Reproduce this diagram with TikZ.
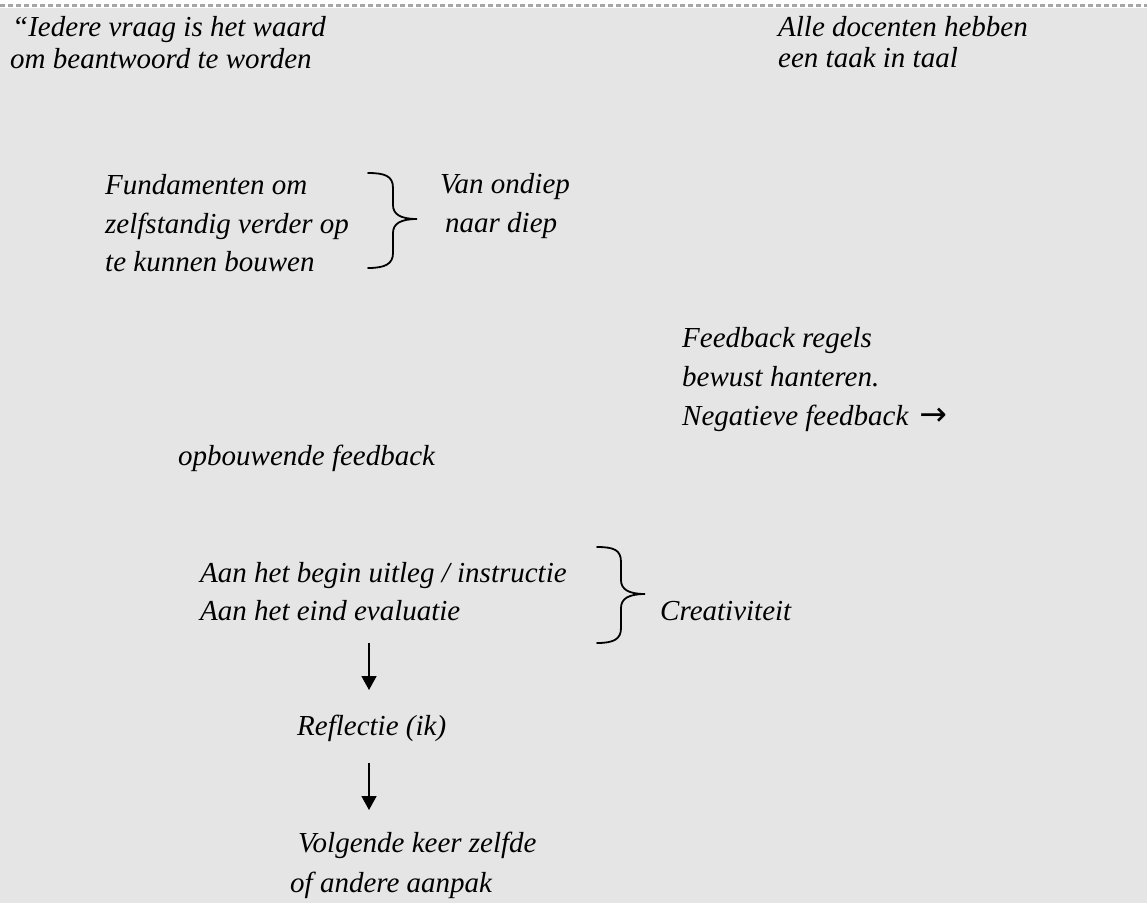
\documentclass[tikz,border=0pt]{standalone}
\usepackage{fontspec}
\setmainfont{Liberation Serif}
\newfontfamily\arrowfont{DejaVu Sans}
\usetikzlibrary{arrows.meta}
\definecolor{bg}{RGB}{229,229,229}
\definecolor{dotgray}{RGB}{165,165,165}
\begin{document}
\begin{tikzpicture}[x=1pt,y=-1pt,
  txt/.style={anchor=base west, inner sep=0pt, font=\fontsize{29}{39}\selectfont\itshape},
  bracestyle/.style={line width=1.8pt, line cap=round},
  flow/.style={line width=1.6pt, -{Triangle[width=15pt,length=14pt]}}]
\useasboundingbox (0,0) rectangle (1147,903);
\fill[white] (0,0) rectangle (1147,903);
\fill[bg] (0,8) rectangle (1147,903);
\draw[dotgray, line width=3pt, dash pattern=on 5pt off 3pt] (0,5.5) -- (1147,5.5);

\node[txt] (q1) at (12,36) {“Iedere vraag is het waard};
\node[txt] (q2) at (10,68) {om beantwoord te worden};
\node[txt] (d1) at (778,36) {Alle docenten hebben};
\node[txt] (d2) at (778,67) {een taak in taal};

\node[txt] (f1) at (105,194) {Fundamenten om};
\node[txt] (f2) at (105,233) {zelfstandig verder op};
\node[txt] (f3) at (105,271) {te kunnen bouwen};
\node[txt] (v1) at (440,193) {Van ondiep};
\node[txt] (v2) at (445,232) {naar diep};

\node[txt] (r1) at (682,347) {Feedback regels};
\node[txt] (r2) at (682,386) {bewust hanteren.};
\node[txt] (r3) at (682,425) {Negatieve feedback\hspace{11pt}{\arrowfont\fontsize{33}{33}\selectfont →}};
\node[txt] (o1) at (178,465) {opbouwende feedback};

\node[txt] (a1) at (200,582) {Aan het begin uitleg / instructie};
\node[txt] (a2) at (200,620) {Aan het eind evaluatie};
\node[txt] (c1) at (660,620) {Creativiteit};
\node[txt] (re) at (297,735) {Reflectie (ik)};
\node[txt] (vk1) at (298,852) {Volgende keer zelfde};
\node[txt] (vk2) at (290,892) {of andere aanpak};

% braces
\draw[bracestyle] (368,173) .. controls (385,173) and (393,176) .. (393,188) -- (393,205)
  .. controls (393,214) and (400,219) .. (417,219)
  .. controls (400,219) and (393,224) .. (393,233) -- (393,253)
  .. controls (393,264) and (385,268) .. (368,268);
\draw[bracestyle] (597,547) .. controls (614,547) and (621,550) .. (621,562) -- (621,580)
  .. controls (621,589) and (628,594) .. (645,594)
  .. controls (628,594) and (621,599) .. (621,608) -- (621,628)
  .. controls (621,639) and (614,643) .. (597,643);

% flow arrows
\coordinate (s1) at (369,643);
\coordinate (e1) at (369,690);
\coordinate (s2) at (369,763);
\coordinate (e2) at (369,810);
\draw[flow] (s1) -- (e1);
\draw[flow] (s2) -- (e2);
\end{tikzpicture}
\end{document}
